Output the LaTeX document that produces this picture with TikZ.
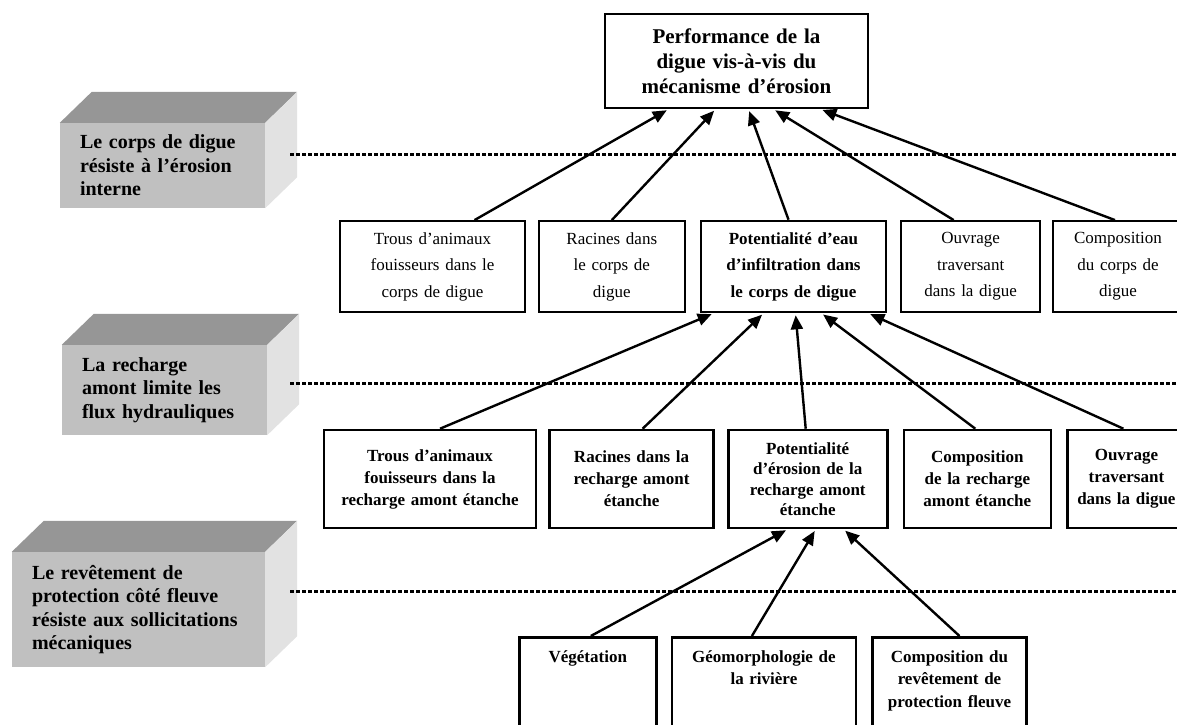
\documentclass[tikz,border=0pt]{standalone}
\usepackage{fontspec}
\setmainfont{Liberation Serif}
\usetikzlibrary{arrows.meta,positioning}
\definecolor{faceavant}{RGB}{192,192,192}
\definecolor{facedessus}{RGB}{150,150,150}
\definecolor{facecote}{RGB}{226,226,226}

\begin{document}
\begin{tikzpicture}[x=1pt, y=-1pt,
    bloc/.style={fill=faceavant, inner xsep=20pt, inner ysep=0pt, align=left, font=\bfseries\fontsize{20}{23.5}\selectfont},
    sommet/.style={draw, line width=2.5pt, inner sep=0pt, minimum width=263pt, minimum height=94pt, text width=250pt, align=center, font=\bfseries\fontsize{21}{25}\selectfont},
    critere/.style={draw, line width=1.8pt, inner sep=0pt, minimum height=91pt, align=center, font=\fontsize{17}{26.5}\selectfont},
    critgras/.style={critere, line width=2.6pt, font=\bfseries\fontsize{17}{26.5}\selectfont},
    recharge/.style={draw, line width=2.6pt, inner sep=0pt, minimum height=98pt, align=center, font=\bfseries\fontsize{17}{22}\selectfont},
    basbox/.style={draw, line width=2.6pt, inner xsep=0pt, inner ysep=13pt, text height=12pt, text depth=110pt, align=center, font=\bfseries\fontsize{17}{22.5}\selectfont},
    fleche/.style={-{Triangle[length=14pt, width=12pt]}, line width=2.4pt, shorten >=2pt},
    pointille/.style={line width=3pt, dash pattern=on 4pt off 2pt}]
    \useasboundingbox (0,0) rectangle (1177,724);
    \clip (0,0) rectangle (1177,724);

    \node[bloc, text width=165pt, minimum height=85pt] (bloc1) at (162.5,165.5) {Le corps de digue\\résiste à l'érosion\\interne};
    \node[bloc, text width=165pt, minimum height=90pt] (bloc2) at (164.5,390) {La recharge\\amont limite les\\flux hydrauliques};
    \node[bloc, text width=213pt, minimum height=115pt] (bloc3) at (138.5,609.5) {Le revêtement de\\protection côté fleuve\\résiste aux sollicitations\\mécaniques};
    \foreach \b in {bloc1,bloc2,bloc3} {
        \fill[facedessus] (\b.north west) -- ++(32,-31) -- ([shift={(32,-31)}]\b.north east) -- (\b.north east) -- cycle;
        \fill[facecote] (\b.north east) -- ++(32,-31) -- ([shift={(32,-31)}]\b.south east) -- (\b.south east) -- cycle;
    }

    \draw[pointille] (290,154) -- (1177,154);
    \draw[pointille] (290,383) -- (1177,383);
    \draw[pointille] (290,591) -- (1177,591);

    \node[sommet] (perf) at (736.5,61) {Performance de la\\digue vis-à-vis du\\mécanisme d'érosion};

    \node[critere, minimum width=185pt, text width=175pt] (r1a) at (432.5,266.5) {Trous d'animaux\\fouisseurs dans le\\corps de digue};
    \node[critere, minimum width=146pt, text width=136pt, right=12pt of r1a] (r1b) {Racines dans\\le corps de\\digue};
    \node[critgras, minimum width=185pt, text width=175pt, right=14pt of r1b] (r1c) {Potentialité d'eau\\d'infiltration dans\\le corps de digue};
    \node[critere, minimum width=139pt, text width=129pt, right=13pt of r1c] (r1d) {Ouvrage\\traversant\\dans la digue};
    \node[critere, minimum width=130pt, text width=120pt, right=11pt of r1d] (r1e) {Composition\\du corps de\\digue};

    \node[recharge, minimum width=212pt, text width=202pt] (r2a) at (430,479) {Trous d'animaux\\fouisseurs dans la\\recharge amont étanche};
    \node[recharge, minimum width=164pt, text width=154pt, right=11pt of r2a] (r2b) {Racines dans la\\recharge amont\\étanche};
    \node[recharge, minimum width=159pt, text width=149pt, right=12pt of r2b, font=\bfseries\fontsize{17}{20.5}\selectfont] (r2c) {Potentialité\\d'érosion de la\\recharge amont\\étanche};
    \node[recharge, minimum width=147pt, text width=137pt, right=14pt of r2c] (r2d) {Composition\\de la recharge\\amont étanche};
    \node[recharge, minimum width=118pt, text width=112pt, right=14pt of r2d] (r2e) {Ouvrage\\traversant\\dans la digue};

    \node[basbox, minimum width=137pt, text width=130pt, anchor=north west] (r3a) at (518,636) {Végétation};
    \node[basbox, minimum width=184pt, text width=176pt, right=13pt of r3a.north east, anchor=north west] (r3b) {Géomorphologie de\\la rivière};
    \node[basbox, minimum width=154pt, text width=146pt, right=14pt of r3b.north east, anchor=north west] (r3c) {Composition du\\revêtement de\\protection fleuve};

    \draw[fleche] ([xshift=42]r1a.north) -- ([xshift=-68]perf.south);
    \draw[fleche] (r1b.north) -- ([xshift=-21]perf.south);
    \draw[fleche] ([xshift=-5]r1c.north) -- ([xshift=12]perf.south);
    \draw[fleche] ([xshift=-17]r1d.north) -- ([xshift=37]perf.south);
    \draw[fleche] ([xshift=-3]r1e.north) -- ([xshift=84]perf.south);

    \draw[fleche] ([xshift=10]r2a.north) -- ([xshift=-80]r1c.south);
    \draw[fleche] ([xshift=11]r2b.north) -- ([xshift=-30]r1c.south);
    \draw[fleche] ([xshift=-2]r2c.north) -- ([xshift=2]r1c.south);
    \draw[fleche] ([xshift=-2]r2d.north) -- ([xshift=28]r1c.south);
    \draw[fleche] ([xshift=-3]r2e.north) -- ([xshift=75]r1c.south);

    \draw[fleche] ([xshift=3]r3a.north) -- ([xshift=-20]r2c.south);
    \draw[fleche] ([xshift=-12]r3b.north) -- ([xshift=8]r2c.south);
    \draw[fleche] ([xshift=10]r3c.north) -- ([xshift=36]r2c.south);
\end{tikzpicture}
\end{document}
